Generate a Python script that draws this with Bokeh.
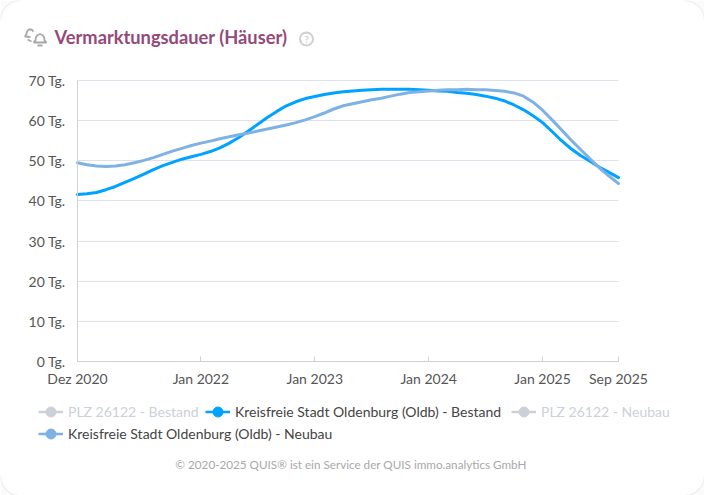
from bokeh.plotting import figure
from bokeh.models import ColumnDataSource, FixedTicker, Legend, LegendItem, Range1d, LinearAxis, Grid
from bokeh.core.properties import value
from bokeh.embed import file_html
from bokeh.resources import INLINE
import math

# months since Dez 2020
months = list(range(58))
oldenburg_bestand = [41.6, 41.8, 42.1, 42.8, 43.6, 44.6, 45.6, 46.7, 47.8, 48.8, 49.6, 50.4, 51.0, 51.6, 52.3, 53.2,
                     54.4, 55.8, 57.4, 59.1, 60.8, 62.3, 63.7, 64.7, 65.5, 66.0, 66.5, 66.9, 67.2, 67.4, 67.6, 67.7,
                     67.8, 67.8, 67.8, 67.8, 67.7, 67.6, 67.4, 67.3, 67.0, 66.8, 66.5, 66.1, 65.6, 64.9, 63.9, 62.7,
                     61.2, 59.5, 57.3, 55.0, 53.0, 51.3, 49.9, 48.4, 47.1, 45.8]
oldenburg_neubau = [49.5, 49.0, 48.7, 48.6, 48.7, 49.0, 49.5, 50.1, 50.8, 51.6, 52.4, 53.1, 53.8, 54.4, 54.9, 55.5,
                    56.0, 56.5, 56.9, 57.4, 57.9, 58.4, 58.9, 59.5, 60.2, 61.0, 61.9, 62.9, 63.7, 64.2, 64.7, 65.2,
                    65.6, 66.1, 66.6, 67.0, 67.2, 67.4, 67.6, 67.7, 67.7, 67.8, 67.7, 67.7, 67.5, 67.3, 66.9, 66.1,
                    64.6, 62.6, 60.2, 57.7, 55.2, 52.8, 50.5, 48.2, 46.2, 44.3]
x_ticks = [0, 13, 25, 37, 49, 57]
x_labels = ["Dez 2020", "Jan 2022", "Jan 2023", "Jan 2024", "Jan 2025", "Sep 2025"]
y_ticks = [0, 10, 20, 30, 40, 50, 60, 70]
y_labels = ["0 Tg.", "10 Tg.", "20 Tg.", "30 Tg.", "40 Tg.", "50 Tg.", "60 Tg.", "70 Tg."]
title_text = "Vermarktungsdauer (Häuser)"
footer_text = "© 2020-2025 QUIS® ist ein Service der QUIS immo.analytics GmbH"
legend_names = ["PLZ 26122 - Bestand", "Kreisfreie Stadt Oldenburg (Oldb) - Bestand", "PLZ 26122 - Neubau",
                "Kreisfreie Stadt Oldenburg (Oldb) - Neubau"]

FONT = "Lato"
BLUE, LIGHT, OFF = "#00a2ff", "#7eb1e4", "#ccd0d8"
W, H = 704, 495
L, R, T, B = 77, 618, 80, 361
sx = (R - L) / 57
sy = (B - T) / 70


def X(px):
    return (px - L) / sx


def Y(py):
    return (B - py) / sy


def XS(v):
    return [X(a) for a in v]


def YS(v):
    return [Y(a) for a in v]


# The plot frame fills the page; the axes sit inside it at fixed locations.
p = figure(width=W, height=H, output_backend="svg", toolbar_location=None,
           x_range=Range1d(X(0), X(W)), y_range=Range1d(Y(H), Y(0)),
           x_axis_type=None, y_axis_type=None,
           min_border_left=0, min_border_right=0, min_border_top=0, min_border_bottom=0)
p.outline_line_color = None
p.background_fill_color = "white"
p.border_fill_color = "white"
p.grid.visible = False

ygrid = Grid(dimension=1, ticker=FixedTicker(ticks=y_ticks), cross_bounds=(0, 57), grid_line_color="#dfe0e9")
p.add_layout(ygrid)

xaxis = LinearAxis(ticker=FixedTicker(ticks=x_ticks), major_label_overrides=dict(zip(x_ticks, x_labels)),
                   fixed_location=0, bounds=(0, 57), major_tick_in=5, major_tick_out=0, major_label_standoff=8)
yaxis = LinearAxis(ticker=FixedTicker(ticks=y_ticks), major_label_overrides=dict(zip(y_ticks, y_labels)),
                   fixed_location=0, bounds=(0, 70), major_tick_in=0, major_tick_out=0, major_label_standoff=12)
for ax in (xaxis, yaxis):
    ax.axis_line_color = "#d0d1d6"
    ax.major_tick_line_color = "#d0d1d6"
    ax.minor_tick_line_color = None
    ax.major_label_text_font = FONT
    ax.major_label_text_font_size = "14px"
    ax.major_label_text_color = "#555555"
p.add_layout(xaxis, "below")
p.add_layout(yaxis, "left")

src = ColumnDataSource(dict(x=months, a=oldenburg_bestand, b=oldenburg_neubau))
p.line("x", "a", source=src, line_color=BLUE, line_width=3, line_join="round", line_cap="round")
p.line("x", "b", source=src, line_color=LIGHT, line_width=3, line_join="round", line_cap="round")


# Card corners
def corner(cx, cy, qx, qy, r=20):
    arc_x = [cx + qx * r * (1 - math.cos(a * math.pi / 24)) for a in range(13)]
    arc_y = [cy + qy * r * (1 - math.sin(a * math.pi / 24)) for a in range(13)]
    p.patch(XS([cx] + arc_x), YS([cy] + arc_y), fill_color="#fbfbfc", line_color=None)
    p.line(XS(arc_x), YS(arc_y), line_color="#f1f1f3", line_width=1.5)


for c in [(0, 0, 1, 1), (W, 0, -1, 1), (0, H, 1, -1), (W, H, -1, -1)]:
    corner(*c)

# Header
p.text([X(54)], [Y(36.5)], text=[title_text], text_font=value(FONT), text_font_size="18.3px", text_font_style="bold",
       text_color="#95497a", text_baseline="middle")
ICON = "#a9a9a9"
p.line(XS([33, 35, 35.4, 37, 39.5, 42, 43.6, 44, 46, 33]), YS([42, 40, 37, 34.5, 33.5, 34.5, 37, 40, 42, 42]),
       line_color=ICON, line_width=1.8)
p.line(XS([37, 42]), YS([45, 45]), line_color=ICON, line_width=1.8)
p.line(XS([33, 31, 28, 26.5, 26, 24.5, 30]), YS([31, 29, 29, 31, 33.5, 36, 36.5]), line_color=ICON, line_width=1.8)
p.line(XS([27, 31]), YS([39, 41]), line_color=ICON, line_width=1.8)
p.scatter([X(306)], [Y(38.5)], size=13, marker="circle", fill_color=None, line_color="#cfcfcf", line_width=2)
p.text([X(306)], [Y(38.8)], text=["?"], text_font=value(FONT), text_font_size="10px", text_font_style="bold",
       text_color="#cfcfcf", text_align="center", text_baseline="middle")

# Legend: one point off the page for each key, so that the keys draw
off_page = ColumnDataSource(dict(x=[X(-50)], y=[Y(-50)]))


def key(color):
    l = p.line("x", "y", source=off_page, line_color=color, line_width=2.5)
    m = p.scatter("x", "y", source=off_page, size=10, fill_color=color, line_color=color)
    return [l, m]


positions = [(38, 423.5, OFF, "#ccd0d8"), (205, 423.5, BLUE, "#444444"), (511, 423.5, OFF, "#ccd0d8"),
             (38, 445.5, LIGHT, "#444444")]
for name, (px, py, col, tcol) in zip(legend_names, positions):
    lg = Legend(items=[LegendItem(label=name, renderers=key(col))],
                location=(px, H - py), orientation="horizontal",
                border_line_color=None, background_fill_alpha=0,
                padding=0, margin=0, glyph_width=25, glyph_height=25,
                label_standoff=5, label_text_font=FONT, label_text_font_size="14px",
                label_text_color=tcol, label_height=16)
    p.add_layout(lg, "center")

p.text([X(350.5)], [Y(463)], text=[footer_text], text_font=value(FONT), text_font_size="11.7px",
       text_color="#a8a8a8", text_align="center", text_baseline="middle")

open("out.html", "w").write(file_html(p, INLINE))
